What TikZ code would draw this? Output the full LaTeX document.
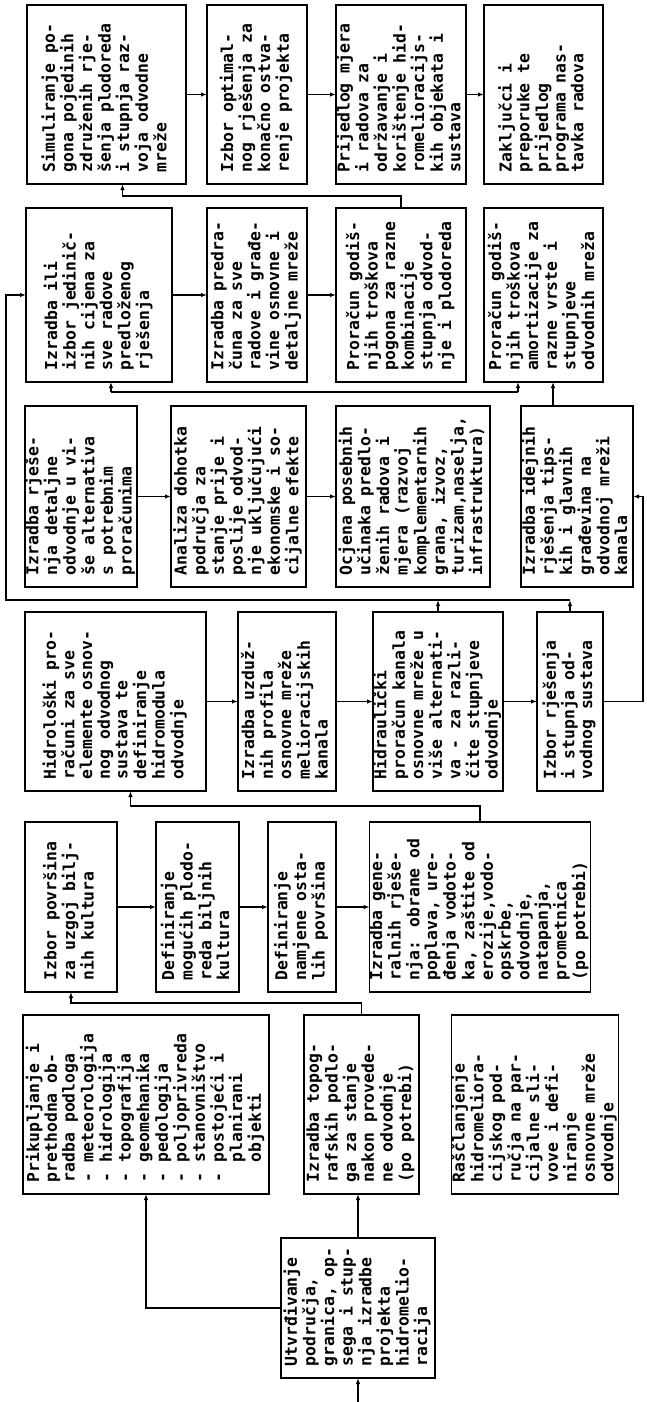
\documentclass[tikz,border=0pt]{standalone}
\usepackage{fontspec}
\usepackage{graphicx}
\newfontfamily\tw{DejaVu Sans Mono}
\usetikzlibrary{arrows.meta}
\tikzset{
 box/.style={draw, line width=1.3pt, inner sep=0pt, outer sep=0pt, font={\tw\bfseries\fontsize{16.4}{17.6}\selectfont}},
 conn/.style={line width=1.2pt},
 arr/.style={conn, -{Latex[length=6pt,width=4.5pt]}},
}
\newcommand\bx[6]{\node[box, minimum width={#4-#2}, minimum height={#5-#3}] (#1) at ({(#2+#4)/2},{(#3+#5)/2}) {\rotatebox{90}{\makebox[\dimexpr #5pt-#3pt-24pt\relax][l]{\begin{tabular}{@{}l@{}}#6\end{tabular}}}};}
\begin{document}
\begin{tikzpicture}[x=1pt,y=-1pt]
\useasboundingbox (0,0) rectangle (646,1402);
\fill[white] (0,0) rectangle (646,1402);
% top row
\bx{S1}{27}{5}{186}{184}{Simuliranje po-\\gona pojedinih\\združenih rje-\\šenja plodoreda\\i stupnja raz-\\voja odvodne\\mreže}
\bx{S2}{207}{5}{307}{184}{Izbor optimal-\\nog rješenja za\\konačno ostva-\\renje projekta}
\bx{S3}{336}{5}{466}{184}{Prijedlog mjera\\i radova za\\održavanje i\\korištenje hid-\\romelioracijs-\\kih objekata i\\sustava}
\bx{S4}{484}{5}{603}{184}{Zaključci i\\preporuke te\\prijedlog\\programa nas-\\tavka radova}
% row C
\bx{C1}{26}{208}{172}{382}{Izradba ili\\izbor jedinič-\\nih cijena za\\sve radove\\predloženog\\rješenja}
\bx{C2}{207}{208}{307}{382}{Izradba predra-\\čuna za sve\\radove i građe-\\vine osnovne i\\detaljne mreže}
\bx{C3}{336}{208}{466}{382}{Proračun godiš-\\njih troškova\\pogona za razne\\kombinacije\\stupnja odvod-\\nje i plodoreda}
\bx{C4}{484}{208}{603}{382}{Proračun godiš-\\njih troškova\\amortizacije za\\razne vrste i\\stupnjeve\\odvodnih mreža}
% row D
\bx{D1}{25}{406}{137}{587}{Izradba rješe-\\nja detaljne\\odvodnje u vi-\\še alternativa\\s potrebnim\\proračunima}
\bx{D2}{171}{406}{306}{587}{Analiza dohotka\\područja za\\stanje prije i\\poslije odvod-\\nje uključujući\\ekonomske i so-\\cijalne efekte}
\bx{D3}{336}{406}{490}{587}{Ocjena posebnih\\učinaka predlo-\\ženih radova i\\mjera (razvoj\\komplementarnih\\grana, izvoz,\\turizam,naselja,\\infrastruktura)}
\bx{D4}{521}{406}{633}{587}{Izradba idejnih\\rješenja tips-\\kih i glavnih\\građevina na\\odvodnoj mreži\\kanala}
% row H
\bx{H1}{25}{612}{206}{791}{Hidrološki pro-\\računi za sve\\elemente osnov-\\nog odvodnog\\sustava te\\definiranje\\hidromodula\\odvodnje}
\bx{H2}{238}{612}{336}{791}{Izradba uzduž-\\nih profila\\osnovne mreže\\melioracijskih\\kanala}
\bx{H3}{373}{612}{503}{791}{Hidraulički\\proračun kanala\\osnovne mreže u\\više alternati-\\va - za razli-\\čite stupnjeve\\odvodnje}
\bx{H4}{537}{612}{603}{791}{Izbor rješenja\\i stupnja od-\\vodnog sustava}
% row G
\bx{G1}{25}{822}{117}{992}{Izbor površina\\za uzgoj bilj-\\nih kultura}
\bx{G2}{156}{822}{239}{992}{Definiranje\\mogućih plodo-\\reda biljnih\\kultura}
\bx{G3}{268}{822}{336}{992}{Definiranje\\namjene osta-\\lih površina}
\bx{G4}{373}{822}{587}{992}{Izradba gene-\\ralnih rješe-\\nja: obrane od\\poplava, ure-\\đenja vodoto-\\ka, zaštite od\\erozije,vodo-\\opskrbe,\\odvodnje,\\natapanja,\\prometnica\\(po potrebi)}
% row P
\bx{P1}{23}{1015}{269}{1194}{Prikupljanje i\\prethodna ob-\\radba podloga\\- meteorologija\\- hidrologija\\- topografija\\- geomehanika\\- pedologija\\- poljoprivreda\\- stanovništvo\\- postojeći i\\\hphantom{- }planirani\\\hphantom{- }objekti}
\bx{P2}{304}{1015}{419}{1194}{Izradba topog-\\rafskih podlo-\\ga za stanje\\nakon provede-\\ne odvodnje\\(po potrebi)}
\bx{P3}{452}{1015}{618}{1194}{Raščlanjenje\\hidromeliora-\\cijskog pod-\\ručja na par-\\cijalne sli-\\vove i defi-\\niranje\\osnovne mreže\\odvodnje}
% row U
\bx{U}{281}{1238}{435}{1378}{Utvrđivanje\\područja,\\granica, op-\\sega i stup-\\nja izradbe\\projekta\\hidromelio-\\racija}
% connectors
\coordinate (in0) at (358,1402);
\draw[arr] (in0) -- (U.south);
\draw[arr] (U.west) -| (P1.south);
\draw[arr] (U.north) -- (U.north |- P2.south);
\draw[arr] (P2.north) -- ++(0,-12) -| (G1.south);
\draw[arr] (G1.east) -- (G2.west);
\draw[arr] (G2.east) -- (G3.west);
\draw[arr] (G3.east) -- (G4.west);
\draw[arr] (G4.north) -- ++(0,-16) -| ([xshift=15pt]H1.south);
\draw[arr] (H1.east) -- (H2.west);
\draw[arr] (H2.east) -- (H3.west);
\draw[arr] (H3.east) -- (H4.west);
\draw[arr] (H4.east) -- ++(40,0) |- (D4.east);
\coordinate (lv) at (6,600);
\draw[arr] (H3.north) -- (H3.north |- lv);
\draw[arr] (H4.north) -- (H4.north |- lv);
\draw[arr] (H4.north |- lv) -- (lv) |- (C1.west);
\draw[arr] (D1.east) -- (D2.west);
\draw[arr] (D2.east) -- (D3.west);
\draw[arr] ([xshift=-24pt]D4.north) -- ([xshift=-24pt]D4.north |- C4.south);
\coordinate (la) at (111,392);
\coordinate (lb) at (518,392);
\draw[conn] (la) -- (lb);
\draw[arr] (la) -- (la |- C1.south);
\draw[arr] (lb) -- (lb |- C4.south);
\draw[arr] (C1.east) -- (C2.west);
\draw[arr] (C2.east) -- (C3.west);
\draw[arr] (C3.north) -- ++(0,-12) -| ([xshift=16pt]S1.south);
\draw[arr] (S1.east) -- (S2.west);
\draw[arr] (S2.east) -- (S3.west);
\draw[arr] (S3.east) -- (S4.west);
\end{tikzpicture}
\end{document}
